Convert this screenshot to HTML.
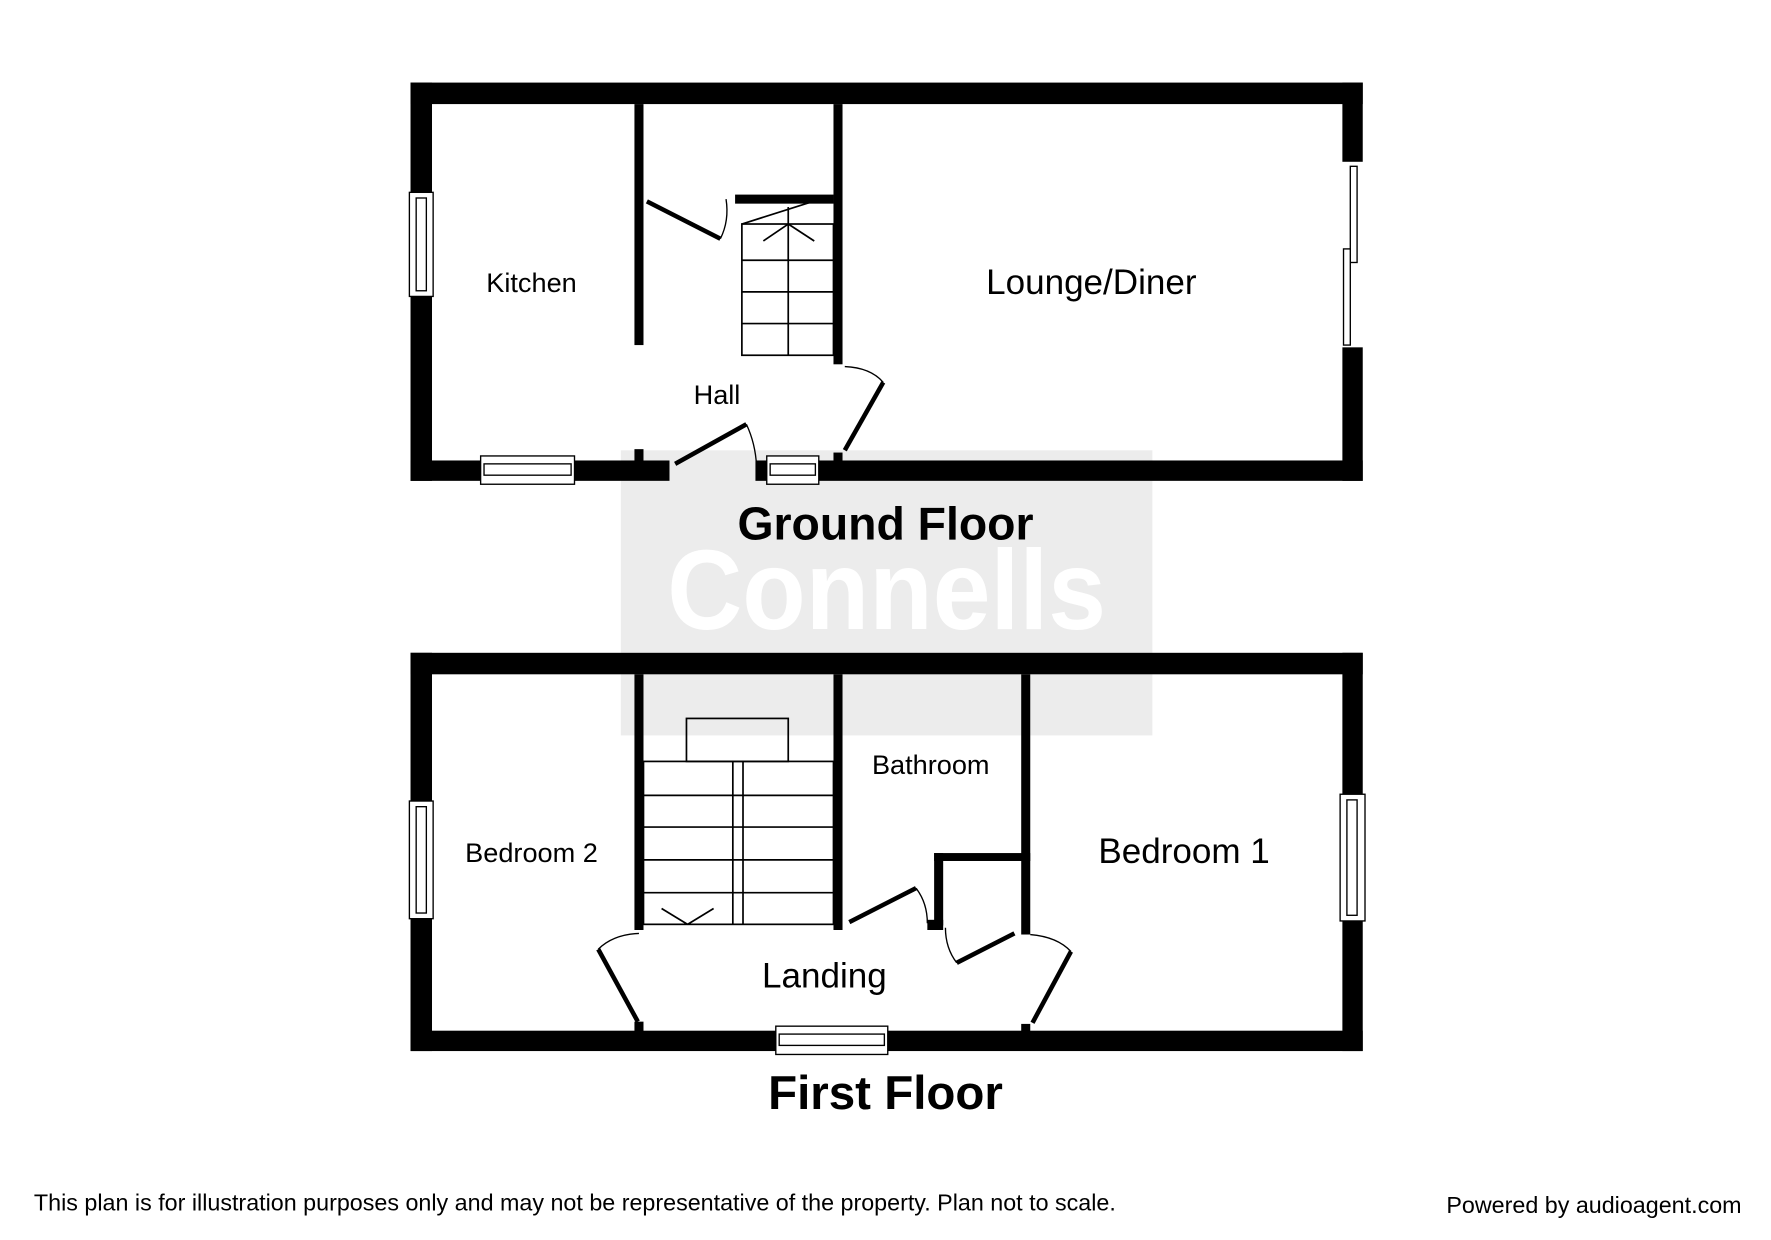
<!DOCTYPE html>
<html><head><meta charset="utf-8"><style>
html,body{margin:0;padding:0;background:#fff;}
svg{display:block;}
text{font-family:"Liberation Sans",Arial,sans-serif;}
</style></head><body>
<svg width="1771" height="1240" viewBox="0 0 1566 1096" preserveAspectRatio="none" xmlns="http://www.w3.org/2000/svg">
<rect width="1566" height="1096" fill="#fff"/>
<!-- watermark -->
<rect x="549" y="398" width="470" height="252" fill="#ececec"/>
<text x="784" y="556" font-size="100" font-weight="bold" fill="#fff" text-anchor="middle" textLength="388" lengthAdjust="spacingAndGlyphs">Connells</text>

<!-- GROUND FLOOR -->
<g fill="#000">
<rect x="363" y="73" width="842" height="19"/>
<rect x="363" y="73" width="19" height="352"/>
<rect x="1187" y="73" width="18" height="70"/>
<rect x="1187" y="307" width="18" height="118"/>
<rect x="363" y="407" width="229" height="18"/>
<rect x="668" y="407" width="537" height="18"/>
<rect x="561" y="92" width="8" height="213"/>
<rect x="737" y="92" width="8" height="230"/>
<rect x="561" y="397" width="8" height="12"/>
<rect x="737" y="400" width="8" height="8"/>
<rect x="650" y="172" width="87" height="8"/>
</g>
<g fill="#fff" stroke="#000" stroke-width="1.2">
<rect x="362" y="170" width="21" height="92"/><rect x="368" y="175" width="9" height="82"/>
<rect x="425" y="403" width="83" height="25"/><rect x="428" y="410" width="77" height="10"/>
<rect x="678" y="403" width="46" height="25"/><rect x="681" y="410" width="40" height="10"/>
<rect x="1194" y="147" width="6" height="85"/>
<rect x="1188" y="220" width="6" height="85"/>
</g>
<g fill="none" stroke="#000" stroke-width="1.5">
<rect x="656" y="198" width="81" height="116"/>
<line x1="697" y1="198" x2="697" y2="314"/>
<line x1="656" y1="230" x2="737" y2="230"/>
<line x1="656" y1="258" x2="737" y2="258"/>
<line x1="656" y1="286" x2="737" y2="286"/>
<line x1="656" y1="198" x2="735" y2="173"/>
<line x1="697" y1="198" x2="675" y2="213"/>
<line x1="697" y1="198" x2="720" y2="213"/>
<line x1="697" y1="198" x2="697" y2="183"/>
</g>
<g stroke="#000" fill="none">
<line x1="572" y1="178" x2="637" y2="211" stroke-width="4"/>
<path d="M637 211 Q645 195 642 176" stroke-width="1.2"/>
<line x1="597" y1="410" x2="660" y2="375" stroke-width="4"/>
<path d="M660 375 Q668 392 669 412" stroke-width="1.2"/>
<line x1="747" y1="398" x2="781" y2="338" stroke-width="4"/>
<path d="M781 338 Q770 325 747 324" stroke-width="1.2"/>
</g>
<g fill="#000">
<text x="470" y="258" font-size="24" text-anchor="middle">Kitchen</text>
<text x="965" y="260" font-size="31" text-anchor="middle">Lounge/Diner</text>
<text x="634" y="357" font-size="24" text-anchor="middle">Hall</text>
<text x="783" y="477" font-size="41" font-weight="bold" text-anchor="middle">Ground Floor</text>
</g>

<!-- FIRST FLOOR -->
<g fill="#000">
<rect x="363" y="577" width="842" height="19"/>
<rect x="363" y="577" width="19" height="352"/>
<rect x="1187" y="577" width="18" height="352"/>
<rect x="363" y="911" width="842" height="18"/>
<rect x="561" y="596" width="8" height="226"/>
<rect x="737" y="596" width="8" height="226"/>
<rect x="903" y="596" width="8" height="230"/>
<rect x="826" y="754" width="85" height="7"/>
<rect x="826" y="754" width="8" height="64"/>
<rect x="820" y="813" width="14" height="9"/>
<rect x="561" y="903" width="8" height="9"/>
<rect x="903" y="905" width="8" height="7"/>
</g>
<g fill="#fff" stroke="#000" stroke-width="1.2">
<rect x="362" y="708" width="21" height="104"/><rect x="368" y="713" width="9" height="94"/>
<rect x="1185" y="702" width="22" height="112"/><rect x="1191" y="707" width="9" height="102"/>
<rect x="686" y="907" width="99" height="25"/><rect x="689" y="914" width="93" height="10"/>
</g>
<g fill="none" stroke="#000" stroke-width="1.5">
<rect x="569" y="673" width="168" height="144"/>
<rect x="607" y="635" width="90" height="38"/>
<line x1="648" y1="673" x2="648" y2="817"/>
<line x1="657" y1="673" x2="657" y2="817"/>
<line x1="569" y1="703" x2="737" y2="703"/>
<line x1="569" y1="731" x2="737" y2="731"/>
<line x1="569" y1="760" x2="737" y2="760"/>
<line x1="569" y1="789" x2="737" y2="789"/>
<line x1="608" y1="817" x2="585" y2="803"/>
<line x1="608" y1="817" x2="631" y2="803"/>
</g>
<g stroke="#000" fill="none">
<line x1="564" y1="903" x2="529" y2="839" stroke-width="4"/>
<path d="M529 839 Q542 826 565 825" stroke-width="1.2"/>
<line x1="751" y1="815" x2="810" y2="785" stroke-width="4"/>
<path d="M810 785 Q820 798 820 816" stroke-width="1.2"/>
<line x1="846" y1="851" x2="897" y2="825" stroke-width="4"/>
<path d="M846 851 Q836 838 836 820" stroke-width="1.2"/>
<line x1="913" y1="904" x2="947" y2="841" stroke-width="4"/>
<path d="M947 841 Q935 828 911 826" stroke-width="1.2"/>
</g>
<g fill="#000">
<text x="823" y="684" font-size="24" text-anchor="middle">Bathroom</text>
<text x="470" y="762" font-size="24" text-anchor="middle">Bedroom 2</text>
<text x="1047" y="763" font-size="31" text-anchor="middle">Bedroom 1</text>
<text x="729" y="873" font-size="31" text-anchor="middle">Landing</text>
<text x="783" y="980" font-size="42" font-weight="bold" text-anchor="middle">First Floor</text>
<text x="30" y="1070" font-size="20.6">This plan is for illustration purposes only and may not be representative of the property. Plan not to scale.</text>
<text x="1540" y="1072" font-size="20.6" text-anchor="end">Powered by audioagent.com</text>
</g>
</svg>
</body></html>
